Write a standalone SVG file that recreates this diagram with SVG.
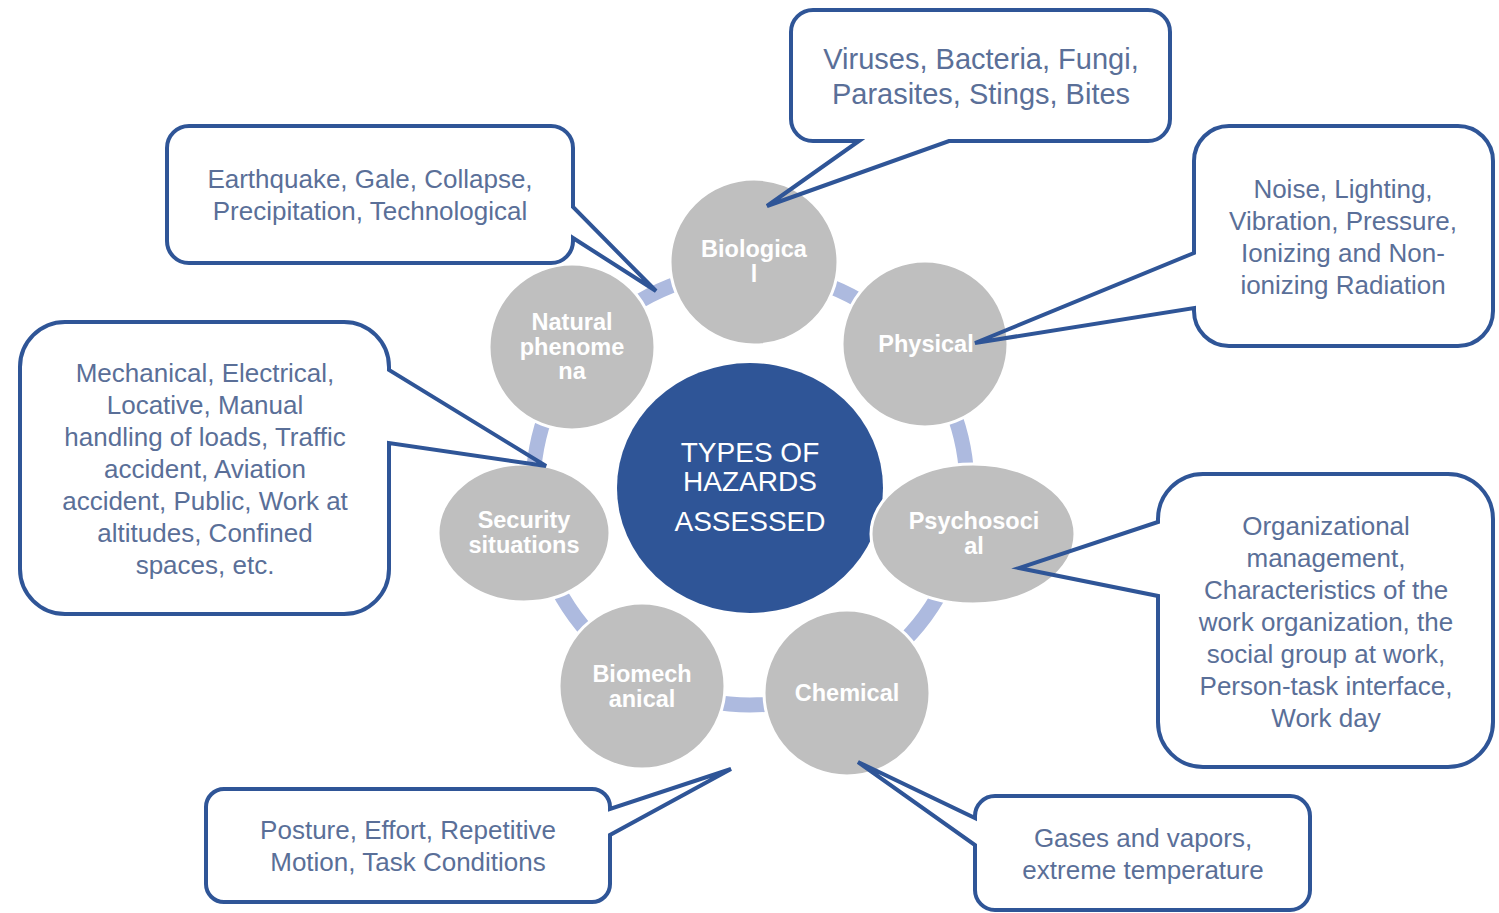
<svg xmlns="http://www.w3.org/2000/svg" width="1499" height="913" viewBox="0 0 1499 913">
<style>
.node{fill:#bfbfbf;stroke:#ffffff;stroke-width:3}
.nt{font-family:"Liberation Sans",Arial,sans-serif;font-weight:bold;font-size:23.5px;fill:#ffffff;text-anchor:middle}
.ct{font-family:"Liberation Sans",Arial,sans-serif;font-size:28px;fill:#ffffff;text-anchor:middle}
.call{fill:none;stroke:#2f5597;stroke-width:4;stroke-linejoin:miter}
.lt{font-family:"Liberation Sans",Arial,sans-serif;font-size:26px;fill:#5a6f98;text-anchor:middle}
.ring{fill:none;stroke:#adbadf;stroke-width:15}
</style>
<rect width="1499" height="913" fill="#ffffff"/>
<g id="connectors">
<circle class="ring" cx="750" cy="488" r="217"/>
</g>
<g id="center">
<ellipse cx="750" cy="488" rx="133" ry="125" fill="#2f5597"/>
<text class="ct" x="750" y="462">TYPES OF</text>
<text class="ct" x="750" y="491">HAZARDS</text>
<text class="ct" x="750" y="531">ASSESSED</text>
</g>
<g id="biological">
<ellipse class="node" cx="754" cy="262" rx="84" ry="83"/>
<text class="nt" x="754" y="257">Biologica</text>
<text class="nt" x="754" y="282">l</text>
</g>
<g id="physical">
<ellipse class="node" cx="925" cy="344" rx="83" ry="83"/>
<text class="nt" x="926" y="352">Physical</text>
</g>
<g id="psychosocial">
<ellipse class="node" cx="973" cy="534" rx="102" ry="70"/>
<text class="nt" x="974" y="529">Psychosoci</text>
<text class="nt" x="974" y="554">al</text>
</g>
<g id="chemical">
<ellipse class="node" cx="847" cy="693" rx="83" ry="83"/>
<text class="nt" x="847" y="701">Chemical</text>
</g>
<g id="biomechanical">
<ellipse class="node" cx="642" cy="686" rx="83" ry="83"/>
<text class="nt" x="642" y="682">Biomech</text>
<text class="nt" x="642" y="707">anical</text>
</g>
<g id="security">
<ellipse class="node" cx="524" cy="533" rx="86" ry="69"/>
<text class="nt" x="524" y="528">Security</text>
<text class="nt" x="524" y="553">situations</text>
</g>
<g id="natural">
<ellipse class="node" cx="572" cy="347" rx="83" ry="83"/>
<text class="nt" x="572" y="330">Natural</text>
<text class="nt" x="572" y="355">phenome</text>
<text class="nt" x="572" y="379">na</text>
</g>
<g id="callout-biological">
<path class="call" d="M813,10 H1148 A22,22 0 0 1 1170,32 V119 A22,22 0 0 1 1148,141 H949 L767,206 L859,141 H813 A22,22 0 0 1 791,119 V32 A22,22 0 0 1 813,10 Z"/>
<text class="lt" x="981" y="69" style="font-size:29px">Viruses, Bacteria, Fungi,</text>
<text class="lt" x="981" y="104" style="font-size:29px">Parasites, Stings, Bites</text>
</g>
<g id="callout-physical">
<path class="call" d="M1229,126 H1458 A35,35 0 0 1 1493,161 V311 A35,35 0 0 1 1458,346 H1229 A35,35 0 0 1 1194,311 V308 L975,343 L1194,253 V161 A35,35 0 0 1 1229,126 Z"/>
<text class="lt" x="1343" y="198">Noise, Lighting,</text>
<text class="lt" x="1343" y="230">Vibration, Pressure,</text>
<text class="lt" x="1343" y="262">Ionizing and Non-</text>
<text class="lt" x="1343" y="294">ionizing Radiation</text>
</g>
<g id="callout-natural">
<path class="call" d="M189,126 H551 A22,22 0 0 1 573,148 V207 L656,291 L573,238 V241 A22,22 0 0 1 551,263 H189 A22,22 0 0 1 167,241 V148 A22,22 0 0 1 189,126 Z"/>
<text class="lt" x="370" y="188">Earthquake, Gale, Collapse,</text>
<text class="lt" x="370" y="220">Precipitation, Technological</text>
</g>
<g id="callout-security">
<path class="call" d="M65,322 H344 A45,45 0 0 1 389,367 V370 L546,466 L389,443 V569 A45,45 0 0 1 344,614 H65 A45,45 0 0 1 20,569 V367 A45,45 0 0 1 65,322 Z"/>
<text class="lt" x="205" y="382">Mechanical, Electrical,</text>
<text class="lt" x="205" y="414">Locative, Manual</text>
<text class="lt" x="205" y="446">handling of loads, Traffic</text>
<text class="lt" x="205" y="478">accident, Aviation</text>
<text class="lt" x="205" y="510">accident, Public, Work at</text>
<text class="lt" x="205" y="542">altitudes, Confined</text>
<text class="lt" x="205" y="574">spaces, etc.</text>
</g>
<g id="callout-psychosocial">
<path class="call" d="M1203,474 H1448 A45,45 0 0 1 1493,519 V722 A45,45 0 0 1 1448,767 H1203 A45,45 0 0 1 1158,722 V596 L1019,568 L1158,522 V519 A45,45 0 0 1 1203,474 Z"/>
<text class="lt" x="1326" y="535">Organizational</text>
<text class="lt" x="1326" y="567">management,</text>
<text class="lt" x="1326" y="599">Characteristics of the</text>
<text class="lt" x="1326" y="631">work organization, the</text>
<text class="lt" x="1326" y="663">social group at work,</text>
<text class="lt" x="1326" y="695">Person-task interface,</text>
<text class="lt" x="1326" y="727">Work day</text>
</g>
<g id="callout-chemical">
<path class="call" d="M995,796 H1290 A20,20 0 0 1 1310,816 V890 A20,20 0 0 1 1290,910 H995 A20,20 0 0 1 975,890 V845 L858,762 L975,818 V816 A20,20 0 0 1 995,796 Z"/>
<text class="lt" x="1143" y="847">Gases and vapors,</text>
<text class="lt" x="1143" y="879">extreme temperature</text>
</g>
<g id="callout-biomechanical">
<path class="call" d="M224,789 H592 A18,18 0 0 1 610,807 V809 L731,769 L610,835 V884 A18,18 0 0 1 592,902 H224 A18,18 0 0 1 206,884 V807 A18,18 0 0 1 224,789 Z"/>
<text class="lt" x="408" y="839">Posture, Effort, Repetitive</text>
<text class="lt" x="408" y="871">Motion, Task Conditions</text>
</g>
</svg>
